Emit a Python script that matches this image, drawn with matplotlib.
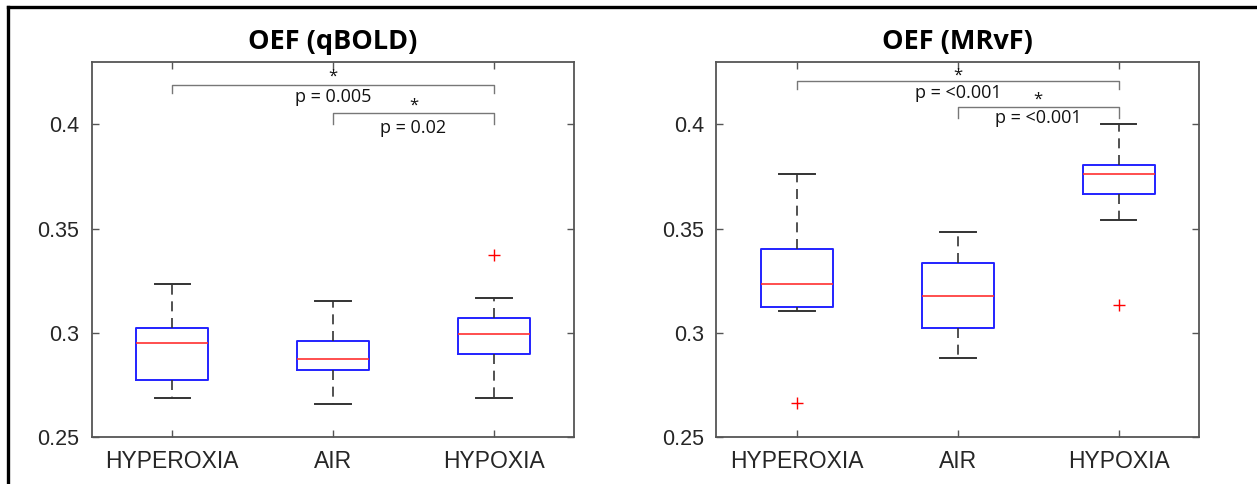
import matplotlib
matplotlib.use("Agg")
import matplotlib.pyplot as plt
from matplotlib.lines import Line2D

# Kategorien
gruppen = ["HYPEROXIA", "AIR", "HYPOXIA"]

# OEF (qBOLD) - Boxplot-Kennwerte
qbold_whislo = [0.2688, 0.2657, 0.2688]
qbold_q1 = [0.2776, 0.2822, 0.2899]
qbold_med = [0.2952, 0.2875, 0.2995]
qbold_q3 = [0.3022, 0.2960, 0.3070]
qbold_whishi = [0.3236, 0.3155, 0.3168]
qbold_fliers = [[], [], [0.3372]]

# OEF (MRvF)
mrvf_whislo = [0.3106, 0.2880, 0.3542]
mrvf_q1 = [0.3125, 0.3021, 0.3665]
mrvf_med = [0.3234, 0.3176, 0.3763]
mrvf_q3 = [0.3404, 0.3337, 0.3806]
mrvf_whishi = [0.3761, 0.3486, 0.4000]
mrvf_fliers = [[0.2662], [], [0.3133]]

# Signifikanz-Klammern: (von, bis, hoehe, spitze, stern_y, text_y, text)
qbold_klammern = [(1, 3, 0.4189, 0.4149, 0.4228, 0.4134, "p = 0.005"),
                  (2, 3, 0.4053, 0.4000, 0.4088, 0.3985, "p = 0.02")]
mrvf_klammern = [(1, 3, 0.4208, 0.4170, 0.4232, 0.4151, "p = <0.001"),
                 (2, 3, 0.4083, 0.4030, 0.4120, 0.4031, "p = <0.001")]

titel = ["OEF (qBOLD)", "OEF (MRvF)"]
yticks = [0.25, 0.3, 0.35, 0.4]
ytick_labels = ["0.25", "0.3", "0.35", "0.4"]


def stats_bauen(lo, q1, med, q3, hi, fl):
    return [dict(whislo=lo[i], q1=q1[i], med=med[i], q3=q3[i], whishi=hi[i], fliers=fl[i])
            for i in range(len(lo))]


fig = plt.figure(figsize=(12.57, 4.84), dpi=100)
ax1 = fig.add_axes([0.073, 0.097, 0.384, 0.775])
ax2 = fig.add_axes([0.570, 0.097, 0.384, 0.775])

alle_stats = [stats_bauen(qbold_whislo, qbold_q1, qbold_med, qbold_q3, qbold_whishi, qbold_fliers),
              stats_bauen(mrvf_whislo, mrvf_q1, mrvf_med, mrvf_q3, mrvf_whishi, mrvf_fliers)]
alle_klammern = [qbold_klammern, mrvf_klammern]

achsenfarbe = "#555555"

for ax, stats, klammern, t in zip([ax1, ax2], alle_stats, alle_klammern, titel):
    ax.bxp(stats, positions=[1, 2, 3], widths=0.45, capwidths=0.22,
           boxprops=dict(color="#2222ff", linewidth=1.4),
           medianprops=dict(color="#ff3030", linewidth=1.2),
           whiskerprops=dict(color="#333333", linewidth=1.2, linestyle=(0, (6, 4))),
           capprops=dict(color="#333333", linewidth=1.4),
           flierprops=dict(marker="+", markeredgecolor="#ff0000", markersize=9,
                           markeredgewidth=1.0, linestyle="none"))
    ax.set_xlim(0.5, 3.5)
    ax.set_ylim(0.25, 0.43)
    ax.set_yticks(yticks)
    ax.set_yticklabels(ytick_labels)
    ax.set_xticks([1, 2, 3])
    ax.set_xticklabels(gruppen)
    ax.tick_params(direction="in", top=True, right=True, length=5, width=1,
                   color=achsenfarbe, labelcolor="#262626", pad=9)
    ax.tick_params(axis="y", labelsize=15.5)
    ax.tick_params(axis="x", labelsize=16.5)
    for lab in ax.get_xticklabels() + ax.get_yticklabels():
        lab.set_family("Liberation Sans")
    for s in ax.spines.values():
        s.set_color(achsenfarbe)
        s.set_linewidth(1.3)
    ax.set_title(t, fontsize=19.5, fontweight="bold", family="Open Sans", pad=9)

    # Klammern mit p-Werten
    for x0, x1, h, spitze, sy, ty, txt in klammern:
        ax.plot([x0, x0, x1, x1], [spitze, h, h, spitze], color="#777777", linewidth=1.0)
        ax.text((x0 + x1) / 2, sy, "*", ha="center", va="center", fontsize=12,
                family="Open Sans", color="#111111")
        ax.text((x0 + x1) / 2, ty, txt, ha="center", va="center", fontsize=13,
                family="Open Sans", color="#111111")

# schwarzer Rahmen oben und links
fig.add_artist(Line2D([0.0064, 0.0064], [0, 0.9855], transform=fig.transFigure,
                      color="black", linewidth=2.4))
fig.add_artist(Line2D([0.0064, 1], [0.9855, 0.9855], transform=fig.transFigure,
                      color="black", linewidth=2.4))

fig.savefig("out.png", dpi=100)
